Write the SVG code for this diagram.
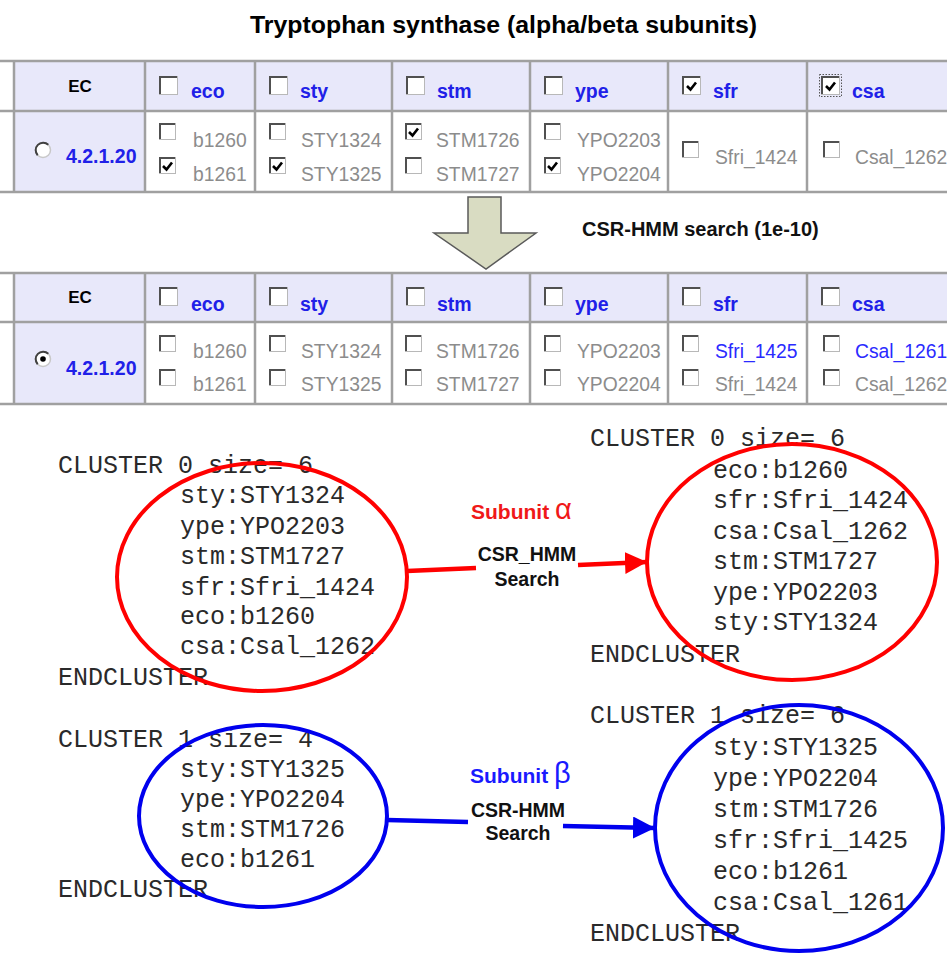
<svg xmlns="http://www.w3.org/2000/svg" xmlns:xlink="http://www.w3.org/1999/xlink" width="947" height="955" viewBox="0 0 947 955">
<style>
.title{font-family:"Liberation Sans",Arial,sans-serif;font-weight:bold;font-size:23.5px;fill:#000}
.hdr{fill:#e8e8fa}
.grid{stroke:#a0a0a0;stroke-width:2.5;fill:none}
.ec{font-family:"Liberation Sans",Arial,sans-serif;font-weight:bold;font-size:17px;fill:#000}
.lab{font-family:"Liberation Sans",Arial,sans-serif;font-weight:bold;font-size:19.5px;fill:#2020e8}
.gene{font-family:"Liberation Sans",Arial,sans-serif;font-size:19.3px;fill:#8c8c8c}
.link{font-family:"Liberation Sans",Arial,sans-serif;font-size:19.3px;fill:#2a2aff}
.mono{font-family:"Liberation Mono","Courier New",monospace;font-size:25px;fill:#2a2a2a}
.edge{font-family:"Liberation Sans",Arial,sans-serif;font-weight:bold;font-size:19.5px;fill:#111}
.note{font-family:"Liberation Sans",Arial,sans-serif;font-weight:bold;font-size:20px;fill:#111}
.sub{font-family:"Liberation Sans",Arial,sans-serif;font-weight:bold;font-size:21px}
</style>
<defs>
<g id="cb">
<rect x="0.5" y="0.5" width="16" height="16" fill="#fff" stroke="#b8b8b8" stroke-width="1"/>
<path d="M1 16 V1 H16" fill="none" stroke="#505050" stroke-width="2"/>
</g>
<g id="cbh">
<rect x="0.5" y="0.5" width="18" height="18" fill="#fff" stroke="#b8b8b8" stroke-width="1"/>
<path d="M1 18 V1 H18" fill="none" stroke="#505050" stroke-width="2"/>
</g>
<path id="chk" d="M4 8 L7.5 11.5 L13 4.5" fill="none" stroke="#000" stroke-width="2.6"/>
<g id="radio">
<circle r="7.5" fill="#fff" stroke="#c8c8c8" stroke-width="1.5"/>
<path d="M5.3 -5.3 A7.5 7.5 0 0 0 -5.3 5.3" fill="none" stroke="#404040" stroke-width="2"/>
</g>
<marker id="ahR" markerWidth="24" markerHeight="22" refX="22" refY="11" orient="auto" markerUnits="userSpaceOnUse">
<path d="M0 0 L22 11 L0 22 Z" fill="#ff0000"/>
</marker>
<marker id="ahB" markerWidth="24" markerHeight="22" refX="22" refY="11" orient="auto" markerUnits="userSpaceOnUse">
<path d="M0 0 L22 11 L0 22 Z" fill="#0000ee"/>
</marker>
</defs>
<rect width="947" height="955" fill="#fff"/>

<text id="title" class="title" x="250" y="33" textLength="507" lengthAdjust="spacingAndGlyphs">Tryptophan synthase (alpha/beta subunits)</text>

<!-- Table 1 -->
<g id="table1">
<rect class="hdr" x="14" y="61" width="933" height="50"/>
<rect class="hdr" x="14" y="111" width="131" height="81"/>
<path class="grid" d="M0 61 H947 M0 111 H947 M0 192 H947 M14 61 V192 M145 61 V192 M255 61 V192 M392 61 V192 M530 61 V192 M668 61 V192 M807 61 V192"/>
<text class="ec" x="80" y="92" text-anchor="middle">EC</text>
<use xlink:href="#cbh" x="159" y="76"/><text class="lab" x="191" y="98">eco</text>
<use xlink:href="#cbh" x="269" y="76"/><text class="lab" x="300" y="98">sty</text>
<use xlink:href="#cbh" x="406" y="76"/><text class="lab" x="437" y="98">stm</text>
<use xlink:href="#cbh" x="544" y="76"/><text class="lab" x="575" y="98">ype</text>
<use xlink:href="#cbh" x="682" y="76"/><use xlink:href="#chk" x="683" y="78"/><text class="lab" x="713" y="98">sfr</text>
<use xlink:href="#cbh" x="821" y="76"/><use xlink:href="#chk" x="822" y="78"/><rect x="819.5" y="74.5" width="22" height="22" fill="none" stroke="#555" stroke-width="1" stroke-dasharray="1.5 1.5"/><text class="lab" x="852" y="98">csa</text>
<use xlink:href="#radio" x="43" y="150"/>
<text class="lab" x="66" y="163">4.2.1.20</text>
<use xlink:href="#cb" x="159" y="123"/><text class="gene" x="193" y="147">b1260</text>
<use xlink:href="#cb" x="159" y="157"/><use xlink:href="#chk" x="159" y="158"/><text class="gene" x="193" y="181">b1261</text>
<use xlink:href="#cb" x="269" y="123"/><text class="gene" x="301" y="147">STY1324</text>
<use xlink:href="#cb" x="269" y="157"/><use xlink:href="#chk" x="269" y="158"/><text class="gene" x="301" y="181">STY1325</text>
<use xlink:href="#cb" x="405" y="123"/><use xlink:href="#chk" x="405" y="124"/><text class="gene" x="436" y="147">STM1726</text>
<use xlink:href="#cb" x="405" y="157"/><text class="gene" x="436" y="181">STM1727</text>
<use xlink:href="#cb" x="544" y="123"/><text class="gene" x="577" y="147">YPO2203</text>
<use xlink:href="#cb" x="544" y="157"/><use xlink:href="#chk" x="544" y="158"/><text class="gene" x="577" y="181">YPO2204</text>
<use xlink:href="#cb" x="682" y="141"/><text class="gene" x="715" y="164">Sfri_1424</text>
<use xlink:href="#cb" x="823" y="141"/><text class="gene" x="855" y="164">Csal_1262</text>
</g>

<!-- Down arrow -->
<g id="down-arrow">
<polygon points="468,197 501,197 501,233 536,233 486,269 434,233 468,233" fill="#d9dcc2" stroke="#5a5a5a" stroke-width="1.5"/>
<text class="note" x="582" y="236">CSR-HMM search (1e-10)</text>
</g>

<!-- Table 2 -->
<g id="table2">
<rect class="hdr" x="14" y="273" width="933" height="49"/>
<rect class="hdr" x="14" y="322" width="131" height="82"/>
<path class="grid" d="M0 273 H947 M0 322 H947 M0 404 H947 M14 273 V404 M145 273 V404 M255 273 V404 M392 273 V404 M530 273 V404 M668 273 V404 M807 273 V404"/>
<text class="ec" x="80" y="303" text-anchor="middle">EC</text>
<use xlink:href="#cbh" x="159" y="287"/><text class="lab" x="191" y="311">eco</text>
<use xlink:href="#cbh" x="269" y="287"/><text class="lab" x="300" y="311">sty</text>
<use xlink:href="#cbh" x="406" y="287"/><text class="lab" x="437" y="311">stm</text>
<use xlink:href="#cbh" x="544" y="287"/><text class="lab" x="575" y="311">ype</text>
<use xlink:href="#cbh" x="682" y="287"/><text class="lab" x="713" y="311">sfr</text>
<use xlink:href="#cbh" x="821" y="287"/><text class="lab" x="852" y="311">csa</text>
<use xlink:href="#radio" x="43" y="359"/><circle cx="43" cy="359" r="2.8" fill="#000"/>
<text class="lab" x="66" y="375">4.2.1.20</text>
<use xlink:href="#cb" x="159" y="335"/><text class="gene" x="193" y="358">b1260</text>
<use xlink:href="#cb" x="159" y="369"/><text class="gene" x="193" y="391">b1261</text>
<use xlink:href="#cb" x="269" y="335"/><text class="gene" x="301" y="358">STY1324</text>
<use xlink:href="#cb" x="269" y="369"/><text class="gene" x="301" y="391">STY1325</text>
<use xlink:href="#cb" x="405" y="335"/><text class="gene" x="436" y="358">STM1726</text>
<use xlink:href="#cb" x="405" y="369"/><text class="gene" x="436" y="391">STM1727</text>
<use xlink:href="#cb" x="544" y="335"/><text class="gene" x="577" y="358">YPO2203</text>
<use xlink:href="#cb" x="544" y="369"/><text class="gene" x="577" y="391">YPO2204</text>
<use xlink:href="#cb" x="682" y="335"/><text class="link" x="715" y="358">Sfri_1425</text>
<use xlink:href="#cb" x="682" y="369"/><text class="gene" x="715" y="391">Sfri_1424</text>
<use xlink:href="#cb" x="823" y="335"/><text class="link" x="855" y="358">Csal_1261</text>
<use xlink:href="#cb" x="823" y="369"/><text class="gene" x="855" y="391">Csal_1262</text>
</g>

<!-- Clusters -->
<g id="cluster0-left">
<text class="mono" x="58" y="473">CLUSTER 0 size= 6</text>
<text class="mono" x="180" y="503">sty:STY1324</text>
<text class="mono" x="180" y="534">ype:YPO2203</text>
<text class="mono" x="180" y="564">stm:STM1727</text>
<text class="mono" x="180" y="595">sfr:Sfri_1424</text>
<text class="mono" x="180" y="624">eco:b1260</text>
<text class="mono" x="180" y="654">csa:Csal_1262</text>
<text class="mono" x="58" y="685">ENDCLUSTER</text>
<ellipse cx="262" cy="577" rx="145" ry="114" fill="none" stroke="#ff0000" stroke-width="4"/>
</g>

<g id="cluster0-right">
<text class="mono" x="590" y="446">CLUSTER 0 size= 6</text>
<text class="mono" x="713" y="478">eco:b1260</text>
<text class="mono" x="713" y="508">sfr:Sfri_1424</text>
<text class="mono" x="713" y="539">csa:Csal_1262</text>
<text class="mono" x="713" y="569">stm:STM1727</text>
<text class="mono" x="713" y="600">ype:YPO2203</text>
<text class="mono" x="713" y="630">sty:STY1324</text>
<text class="mono" x="590" y="662">ENDCLUSTER</text>
<ellipse cx="792" cy="562" rx="145" ry="118" fill="none" stroke="#ff0000" stroke-width="4"/>
</g>

<g id="cluster1-left">
<text class="mono" x="58" y="747">CLUSTER 1 size= 4</text>
<text class="mono" x="180" y="777">sty:STY1325</text>
<text class="mono" x="180" y="807">ype:YPO2204</text>
<text class="mono" x="180" y="837">stm:STM1726</text>
<text class="mono" x="180" y="867">eco:b1261</text>
<text class="mono" x="58" y="897">ENDCLUSTER</text>
<ellipse cx="263" cy="816" rx="124" ry="91" fill="none" stroke="#0000ee" stroke-width="4"/>
</g>

<g id="cluster1-right">
<text class="mono" x="590" y="723">CLUSTER 1 size= 6</text>
<text class="mono" x="713" y="755">sty:STY1325</text>
<text class="mono" x="713" y="786">ype:YPO2204</text>
<text class="mono" x="713" y="817">stm:STM1726</text>
<text class="mono" x="713" y="848">sfr:Sfri_1425</text>
<text class="mono" x="713" y="879">eco:b1261</text>
<text class="mono" x="713" y="910">csa:Csal_1261</text>
<text class="mono" x="590" y="941">ENDCLUSTER</text>
<ellipse cx="799" cy="828" rx="144" ry="123" fill="none" stroke="#0000ee" stroke-width="4"/>
</g>

<!-- Connectors -->
<g id="connectors">
<path d="M407 571 L476 568" fill="none" stroke="#ff0000" stroke-width="4.5"/>
<path d="M578 565 L647 562" fill="none" stroke="#ff0000" stroke-width="4.5" marker-end="url(#ahR)"/>
<text class="sub" x="471" y="519" fill="#f01818">Subunit <tspan font-weight="normal" font-size="29">α</tspan></text>
<text class="edge" x="527" y="561" text-anchor="middle">CSR_HMM</text>
<text class="edge" x="527" y="586" text-anchor="middle">Search</text>
<path d="M387 820 L468 822" fill="none" stroke="#0000ee" stroke-width="4.5"/>
<path d="M563 826 L655 828" fill="none" stroke="#0000ee" stroke-width="4.5" marker-end="url(#ahB)"/>
<text class="sub" x="470" y="783" fill="#1a1aff">Subunit <tspan font-weight="normal" font-size="29">β</tspan></text>
<text class="edge" x="518" y="817" text-anchor="middle">CSR-HMM</text>
<text class="edge" x="518" y="840" text-anchor="middle">Search</text>
</g>
</svg>
